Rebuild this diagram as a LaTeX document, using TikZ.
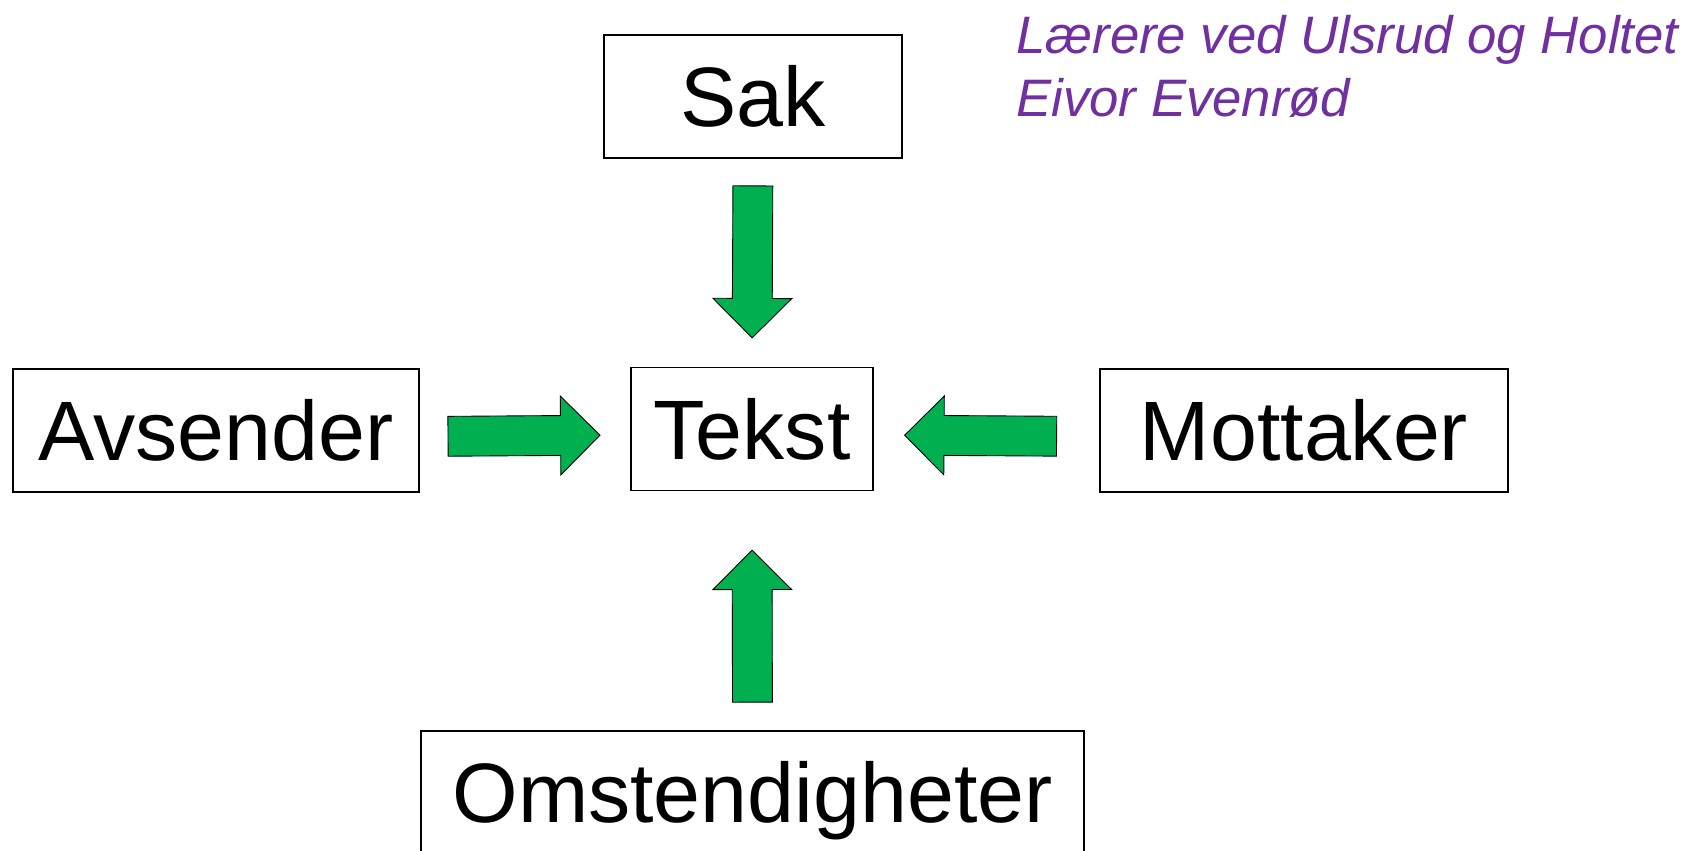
\documentclass[tikz,border=0pt]{standalone}
\usepackage{fontspec}
\setmainfont{Liberation Sans}
\usetikzlibrary{shapes.arrows}
\definecolor{arrowgreen}{RGB}{0,176,80}
\definecolor{notepurple}{RGB}{112,48,160}

\begin{document}
\begin{tikzpicture}[
    box/.style={draw,line width=.6pt,minimum height=2.46cm,inner sep=0,
      text height=43.2pt,text depth=8.8pt,font=\fontsize{48}{56}\selectfont},
    bigarrow/.style={single arrow,draw,fill=arrowgreen,line width=.5pt,
      minimum height=3.04cm,single arrow head extend=.39cm,
      inner xsep=0,inner ysep=.39cm,sloped,allow upside down}]
    \useasboundingbox(0,0)rectangle(33.9,17);
    % boxes
    \node[box,minimum width=5.96cm](sak)at(15.06,15.07){Sak};
    \node[box,minimum width=4.84cm](tekst)at(15.04,8.42){Tekst};
    \node[box,minimum width=8.12cm](avsender)at(4.32,8.39){Avsender};
    \node[box,minimum width=8.16cm](mottaker)at(26.08,8.39){Mottaker};
    \node[box,minimum width=13.26cm](omst)at(15.05,1.15){Omstendigheter};
    % arrows into Tekst
    \path(sak.south)--(tekst.north)node[bigarrow,pos=.448](a1){};
    \path([yshift=-.12cm]avsender.east)--([yshift=-.12cm]tekst.west)
      node[bigarrow,pos=.448](a2){};
    \path([yshift=-.12cm]mottaker.west)--([yshift=-.12cm]tekst.east)
      node[bigarrow,pos=.482](a3){};
    \path(omst.north)--(tekst.south)node[bigarrow,pos=.394](a4){};
    % note
    \node[anchor=north west,inner sep=0,align=left,text=notepurple,
      font=\fontsize{30}{35.9}\selectfont\itshape](note)at(20.32,16.7)
      {Lærere ved Ulsrud og Holtet\\Eivor Evenrød};
\end{tikzpicture}
\end{document}
